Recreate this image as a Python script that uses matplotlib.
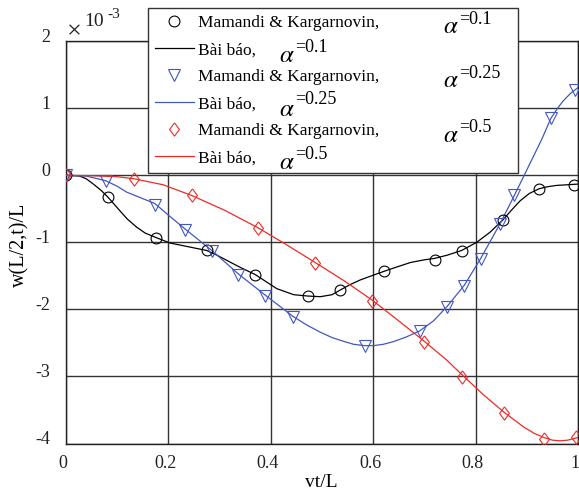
import matplotlib
matplotlib.use("Agg")
import matplotlib.pyplot as plt
import matplotlib.transforms as mtransforms

plt.rcParams['font.family'] = ['Liberation Serif', 'DejaVu Serif']
plt.rcParams['mathtext.fontset'] = 'stix'
plt.rcParams['axes.unicode_minus'] = False

# values in units of 1e-3
# Mamandi & Kargarnovin, alpha = 0.1 (circles)
mk1_x = [0, 0.083, 0.177, 0.275, 0.370, 0.472, 0.536, 0.622, 0.720, 0.773, 0.854, 0.924, 0.992]
mk1_y = [0, -0.33, -0.94, -1.12, -1.48, -1.80, -1.71, -1.43, -1.26, -1.13, -0.67, -0.20, -0.14]
# Bai bao, alpha = 0.1
bb1_x = [0, 0.015, 0.027, 0.04, 0.054, 0.07, 0.083, 0.106, 0.12, 0.138, 0.155, 0.177, 0.204,
         0.23, 0.249, 0.275, 0.295, 0.315, 0.34, 0.370, 0.39, 0.412, 0.445, 0.472, 0.497,
         0.52, 0.536, 0.555, 0.575, 0.60, 0.622, 0.645, 0.673, 0.70, 0.719, 0.745, 0.773,
         0.802, 0.828, 0.854, 0.87, 0.887, 0.905, 0.924, 0.94, 0.958, 0.98, 1.0]
bb1_y = [0, -0.003, -0.01, -0.05, -0.13, -0.23, -0.33, -0.53, -0.65, -0.77, -0.86, -0.93,
         -1.01, -1.05, -1.08, -1.12, -1.19, -1.27, -1.37, -1.48, -1.58, -1.69, -1.78, -1.80,
         -1.81, -1.78, -1.71, -1.63, -1.56, -1.49, -1.43, -1.37, -1.30, -1.26, -1.24,
         -1.19, -1.12, -1.00, -0.85, -0.66, -0.52, -0.38, -0.27, -0.20, -0.17, -0.15,
         -0.14, -0.13]

# alpha = 0.25 (triangles)
mk2_x = [0, 0.078, 0.174, 0.233, 0.285, 0.337, 0.390, 0.443, 0.584, 0.691, 0.744, 0.778,
         0.810, 0.848, 0.876, 0.947, 0.994]
mk2_y = [0, -0.09, -0.44, -0.81, -1.13, -1.48, -1.80, -2.12, -2.55, -2.32, -1.97, -1.65,
         -1.25, -0.73, -0.30, 0.86, 1.27]
bb2_x = [0, 0.04, 0.078, 0.10, 0.119, 0.145, 0.174, 0.20, 0.233, 0.285, 0.337, 0.390,
         0.443, 0.47, 0.497, 0.520, 0.540, 0.562, 0.584, 0.601, 0.620, 0.640, 0.665,
         0.691, 0.718, 0.744, 0.778, 0.810, 0.848, 0.877, 0.909, 0.930, 0.947, 0.960,
         0.971, 0.985, 1.0]
bb2_y = [0, -0.01, -0.08, -0.16, -0.25, -0.33, -0.42, -0.59, -0.80, -1.12, -1.47, -1.79,
         -2.10, -2.23, -2.34, -2.42, -2.47, -2.52, -2.54, -2.54, -2.52, -2.48, -2.41,
         -2.32, -2.17, -1.96, -1.64, -1.24, -0.72, -0.28, 0.22, 0.55, 0.85, 1.00,
         1.11, 1.22, 1.31]

# alpha = 0.5 (diamonds)
mk3_x = [0, 0.133, 0.246, 0.375, 0.487, 0.598, 0.699, 0.773, 0.855, 0.933, 0.996]
mk3_y = [0, -0.05, -0.30, -0.78, -1.30, -1.87, -2.48, -3.01, -3.54, -3.93, -3.91]
bb3_x = [0, 0.05, 0.1, 0.133, 0.19, 0.246, 0.31, 0.375, 0.43, 0.487, 0.545, 0.598, 0.65,
         0.699, 0.743, 0.773, 0.815, 0.855, 0.895, 0.915, 0.933, 0.95, 0.965, 0.98, 1.0]
bb3_y = [0, -0.005, -0.02, -0.05, -0.14, -0.30, -0.52, -0.78, -1.03, -1.30, -1.58, -1.86,
         -2.17, -2.47, -2.75, -2.97, -3.27, -3.53, -3.76, -3.85, -3.91, -3.95, -3.96,
         -3.95, -3.91]

x_ticks = [0, 0.2, 0.4, 0.6, 0.8, 1.0]
x_labels = ['0', '0.2', '0.4', '0.6', '0.8', '1']
y_ticks = [-4, -3, -2, -1, 0, 1, 2]
y_labels = ['-4', '-3', '-2', '-1', '0', '1', '2']

blue = '#4257c0'
red = '#ee2b25'
W, H = 579, 497

fig = plt.figure(figsize=(W / 100, H / 100), dpi=100)
ax = fig.add_axes([65.7 / W, 1 - 443.5 / H, (578 - 65.7) / W, (443.5 - 41.3) / H])

diamond = [(0, 1), (0.75, 0), (0, -1), (-0.75, 0), (0, 1)]

h1, = ax.plot(mk1_x, mk1_y, 'o', ms=7.8, mfc='none', mec='black', mew=0.8, zorder=4)
l1, = ax.plot(bb1_x, bb1_y, '-', color='black', lw=0.9, zorder=3)
h2, = ax.plot(mk2_x, mk2_y, 'v', ms=8.5, mfc='none', mec=blue, mew=0.8, zorder=4)
l2, = ax.plot(bb2_x, bb2_y, '-', color=blue, lw=0.9, zorder=3)
h3, = ax.plot(mk3_x, mk3_y, marker=diamond, ls='none', ms=9.5, mfc='none', mec=red, mew=0.8, zorder=4)
l3, = ax.plot(bb3_x, bb3_y, '-', color=red, lw=0.9, zorder=3)

ax.set_xlim(0, 1)
ax.set_ylim(-4, 2)
ax.set_xticks(x_ticks)
ax.set_xticklabels(x_labels)
ax.set_yticks(y_ticks)
ax.set_yticklabels(y_labels)
ax.tick_params(length=0, labelsize=13, colors='#222222')
ax.tick_params(axis='y', pad=11)
ax.tick_params(axis='x', pad=8)
ax.grid(True, color='#333333', lw=1)
ax.set_axisbelow(True)
for s in ax.spines.values():
    s.set_color('#222222')
    s.set_linewidth(1)

# nudge tick labels like the original
for lab in ax.get_yticklabels():
    lab.set_transform(lab.get_transform() + mtransforms.ScaledTranslation(0, 6 / 100, fig.dpi_scale_trans))
for lab in ax.get_xticklabels():
    lab.set_transform(lab.get_transform() + mtransforms.ScaledTranslation(-3 / 100, 0, fig.dpi_scale_trans))

ax.set_xlabel('vt/L', fontsize=14)
ax.xaxis.set_label_coords(0.498, -0.098)
ax.xaxis.label.set_va('center')
ax.set_ylabel('w(L/2,t)/L', fontsize=14.5)
ax.yaxis.set_label_coords(-0.089, 0.494)
ax.yaxis.label.set_va('center')

# x10^-3 multiplier
fig.text(67 / W, 1 - 32 / H, '\u00d7', fontsize=19, va='center', ha='left', color='#222222')
fig.text(84 / W, 1 - 22 / H, '10', fontsize=14, va='center', ha='left', color='#222222')
fig.text(107 / W, 1 - 14 / H, '-3', fontsize=11, va='center', ha='left', color='#222222')

leg = ax.legend([h1, l1, h2, l2, h3, l3],
                ['Mamandi & Kargarnovin,', 'Bài báo,'] * 3,
                loc='upper left', mode='expand',
                bbox_to_anchor=(148 / W, 1 - 8 / H, (518 - 148) / W, 0),
                bbox_transform=fig.transFigure, borderaxespad=0,
                fontsize=12.5, numpoints=1, handlelength=2.25, handletextpad=0.25,
                labelspacing=0.63, borderpad=0.4, fancybox=False, framealpha=1,
                edgecolor='#333333')
leg.get_frame().set_linewidth(1)

# alpha annotations in the legend
right_rows = [(27, 19, '=0.1'), (81, 73, '=0.25'), (136, 127, '=0.5')]
left_rows = [(56, 47, '=0.1'), (110, 100, '=0.25'), (163, 155, '=0.5')]
for ya, ys, txt in right_rows:
    fig.text(443 / W, 1 - ya / H, r'$\alpha$', fontsize=18, va='center', ha='left', zorder=10)
    fig.text(459 / W, 1 - ys / H, txt, fontsize=13, va='center', ha='left', zorder=10)
for ya, ys, txt in left_rows:
    fig.text(279 / W, 1 - ya / H, r'$\alpha$', fontsize=18, va='center', ha='left', zorder=10)
    fig.text(295 / W, 1 - ys / H, txt, fontsize=13, va='center', ha='left', zorder=10)

fig.savefig('out.png', dpi=100)
